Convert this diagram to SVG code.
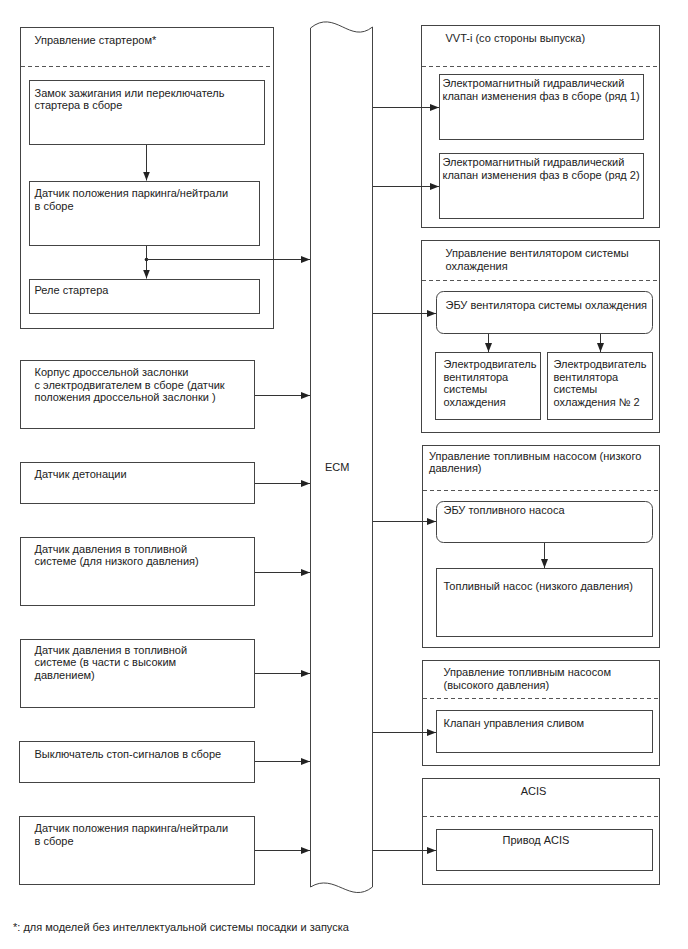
<svg xmlns="http://www.w3.org/2000/svg" width="688" height="949" viewBox="0 0 688 949">
<defs>
<style>
.b{fill:#fff;stroke:#444;stroke-width:1}
.d{fill:none;stroke:#555;stroke-width:1;stroke-dasharray:4 3}
.c{fill:none;stroke:#333;stroke-width:1}
text{font-family:"Liberation Sans",Arial,sans-serif;font-size:11px;fill:#222}
</style>
<marker id="ah" viewBox="0 0 9 7" refX="9" refY="3.5" markerWidth="9" markerHeight="7" markerUnits="userSpaceOnUse" orient="auto">
<path d="M0,0 L9,3.5 L0,7 z" fill="#222"/>
</marker>
</defs>
<rect width="688" height="949" fill="#fff"/>

<g id="starter-group">
<rect class="b" x="20.5" y="27.5" width="253" height="301"/>
<text x="34.5" y="44">Управление стартером*</text>
<line class="d" x1="21" y1="66.5" x2="273" y2="66.5"/>
</g>
<g id="ignition-switch">
<rect class="b" x="29.5" y="80.5" width="235" height="64"/>
<text x="34.5" y="96.5">Замок зажигания или переключатель</text>
<text x="34.5" y="109">стартера в сборе</text>
</g>
<g id="pn-sensor-starter">
<rect class="b" x="29.5" y="181.5" width="230" height="64"/>
<text x="34.5" y="197">Датчик положения паркинга/нейтрали</text>
<text x="34.5" y="209.5">в сборе</text>
</g>
<g id="starter-relay">
<rect class="b" x="29.5" y="279.5" width="230" height="34"/>
<text x="34.5" y="294">Реле стартера</text>
</g>

<g id="throttle">
<rect class="b" x="20.5" y="360.5" width="234" height="68"/>
<text x="34.5" y="376">Корпус дроссельной заслонки</text>
<text x="34.5" y="388.5">с электродвигателем в сборе (датчик</text>
<text x="34.5" y="401">положения дроссельной заслонки )</text>
</g>
<g id="knock">
<rect class="b" x="20.5" y="462.5" width="234" height="41"/>
<text x="34.5" y="477.7">Датчик детонации</text>
</g>
<g id="fuel-pressure-low">
<rect class="b" x="20.5" y="537.5" width="234" height="68"/>
<text x="34.5" y="552.7">Датчик давления в топливной</text>
<text x="34.5" y="565.2">системе (для низкого давления)</text>
</g>
<g id="fuel-pressure-high">
<rect class="b" x="20.5" y="639.5" width="234" height="68"/>
<text x="34.5" y="653.7">Датчик давления в топливной</text>
<text x="34.5" y="666.2">системе (в части с высоким</text>
<text x="34.5" y="678.7">давлением)</text>
</g>
<g id="stop-switch">
<rect class="b" x="19.5" y="741.5" width="235" height="41"/>
<text x="34.5" y="757.7">Выключатель стоп-сигналов в сборе</text>
</g>
<g id="pn-sensor">
<rect class="b" x="19.5" y="816.5" width="235" height="68"/>
<text x="34.5" y="832">Датчик положения паркинга/нейтрали</text>
<text x="34.5" y="844.5">в сборе</text>
</g>

<g id="ecm">
<path class="b" d="M310.5,28 C335,8 350,45 372.5,27 L372.5,887 C350,905 335,872 310.5,887 Z"/>
<text x="325" y="471">ECM</text>
</g>

<g id="vvti">
<rect class="b" x="421.5" y="25.5" width="238" height="202"/>
<text x="445.5" y="42">VVT-i (со стороны выпуска)</text>
<line class="d" x1="422" y1="66.5" x2="659" y2="66.5"/>
</g>
<g id="ocv1">
<rect class="b" x="439.5" y="74.5" width="204" height="65"/>
<text x="442.5" y="87">Электромагнитный гидравлический</text>
<text x="442.5" y="99.5">клапан изменения фаз в сборе (ряд 1)</text>
</g>
<g id="ocv2">
<rect class="b" x="439.5" y="153.5" width="204" height="65"/>
<text x="442.5" y="166">Электромагнитный гидравлический</text>
<text x="442.5" y="178.5">клапан изменения фаз в сборе (ряд 2)</text>
</g>

<g id="fan-control">
<rect class="b" x="421.5" y="240.5" width="238" height="192"/>
<text x="445.5" y="257">Управление вентилятором системы</text>
<text x="445.5" y="269.5">охлаждения</text>
<line class="d" x1="422" y1="280.5" x2="659" y2="280.5"/>
</g>
<g id="fan-ecu">
<rect class="b" x="436.5" y="291.5" width="216" height="42" rx="7" ry="7"/>
<text x="445.5" y="308.5">ЭБУ вентилятора системы охлаждения</text>
</g>
<g id="fan-motor1">
<rect class="b" x="435.5" y="352.5" width="105" height="67"/>
<text x="443.5" y="368.3">Электродвигатель</text>
<text x="443.5" y="380.8">вентилятора</text>
<text x="443.5" y="393.3">системы</text>
<text x="443.5" y="405.8">охлаждения</text>
</g>
<g id="fan-motor2">
<rect class="b" x="547.5" y="352.5" width="105" height="67"/>
<text x="553.5" y="368.3">Электродвигатель</text>
<text x="553.5" y="380.8">вентилятора</text>
<text x="553.5" y="393.3">системы</text>
<text x="553.5" y="405.8">охлаждения № 2</text>
</g>

<g id="fuel-pump-low">
<rect class="b" x="422.5" y="445.5" width="237" height="202"/>
<text x="429" y="459.5">Управление топливным насосом (низкого</text>
<text x="429" y="472">давления)</text>
<line class="d" x1="423" y1="490.5" x2="659" y2="490.5"/>
</g>
<g id="pump-ecu">
<rect class="b" x="436.5" y="501.5" width="216" height="41" rx="7" ry="7"/>
<text x="443.5" y="513.5">ЭБУ топливного насоса</text>
</g>
<g id="pump">
<rect class="b" x="436.5" y="568.5" width="216" height="68"/>
<text x="443.5" y="590">Топливный насос (низкого давления)</text>
</g>

<g id="fuel-pump-high">
<rect class="b" x="422.5" y="660.5" width="237" height="105"/>
<text x="443.5" y="676">Управление топливным насосом</text>
<text x="443.5" y="688.5">(высокого давления)</text>
<line class="d" x1="423" y1="698.5" x2="659" y2="698.5"/>
</g>
<g id="spill-valve">
<rect class="b" x="436.5" y="710.5" width="216" height="42"/>
<text x="443.5" y="726.7">Клапан управления сливом</text>
</g>

<g id="acis">
<rect class="b" x="422.5" y="778.5" width="237" height="106"/>
<text x="533.5" y="794.5" text-anchor="middle">ACIS</text>
<line class="d" x1="423" y1="816.5" x2="659" y2="816.5"/>
</g>
<g id="acis-actuator">
<rect class="b" x="436.5" y="829.5" width="216" height="41"/>
<text x="536" y="844.4" text-anchor="middle">Привод ACIS</text>
</g>

<g id="connectors">
<path class="c" d="M146.5,145 V180.5" marker-end="url(#ah)"/>
<path class="c" d="M146.5,246 V278.5" marker-end="url(#ah)"/>
<circle cx="146.5" cy="259.5" r="1.8" fill="#222"/>
<path class="c" d="M146.5,259.5 H310" marker-end="url(#ah)"/>
<path class="c" d="M255,395.5 H310" marker-end="url(#ah)"/>
<path class="c" d="M255,483.5 H310" marker-end="url(#ah)"/>
<path class="c" d="M255,572.5 H310" marker-end="url(#ah)"/>
<path class="c" d="M255,673.5 H310" marker-end="url(#ah)"/>
<path class="c" d="M255,761.5 H310" marker-end="url(#ah)"/>
<path class="c" d="M255,850.5 H310" marker-end="url(#ah)"/>
<path class="c" d="M373,107.5 H439" marker-end="url(#ah)"/>
<path class="c" d="M373,186.5 H439" marker-end="url(#ah)"/>
<path class="c" d="M373,313.5 H436" marker-end="url(#ah)"/>
<path class="c" d="M373,521.5 H436" marker-end="url(#ah)"/>
<path class="c" d="M373,732.5 H436" marker-end="url(#ah)"/>
<path class="c" d="M373,850.5 H436" marker-end="url(#ah)"/>
<path class="c" d="M488.5,334 V352" marker-end="url(#ah)"/>
<path class="c" d="M600.5,334 V352" marker-end="url(#ah)"/>
<path class="c" d="M544.5,543 V568" marker-end="url(#ah)"/>
</g>

<text x="13" y="930.5">*: для моделей без интеллектуальной системы посадки и запуска</text>
</svg>
